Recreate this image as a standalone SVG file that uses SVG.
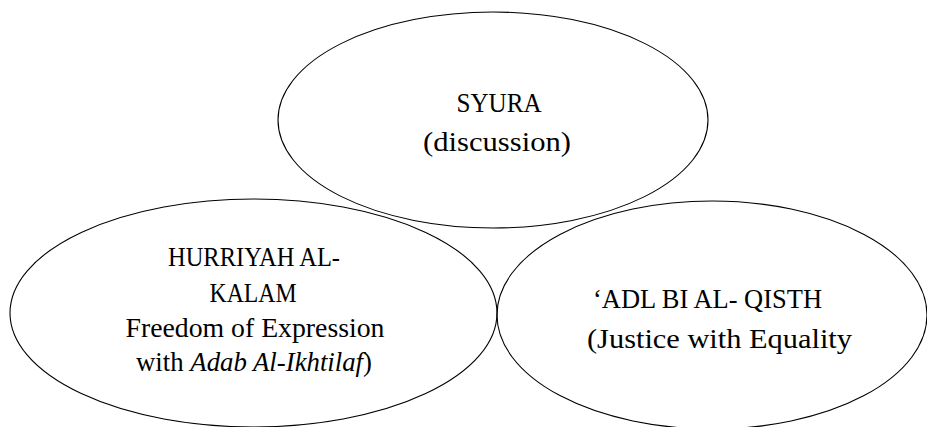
<svg xmlns="http://www.w3.org/2000/svg" width="927" height="427" viewBox="0 0 927 427">
  <style>
    .shape { fill: none; stroke: #000000; stroke-width: 1.1; }
    .lbl { font-family: "Liberation Serif", "DejaVu Serif", serif; font-size: 27px; fill: #000000; }
    .mid { text-anchor: middle; }
    .it { font-style: italic; }
  </style>
  <rect width="927" height="427" fill="#ffffff"/>
  <g id="node-syura">
    <ellipse class="shape" cx="493" cy="120" rx="215" ry="108"/>
    <text class="lbl mid" x="499" y="111.5" textLength="85" lengthAdjust="spacingAndGlyphs">SYURA</text>
    <text class="lbl mid" x="497" y="150.5" textLength="148" lengthAdjust="spacingAndGlyphs">(discussion)</text>
  </g>
  <g id="node-hurriyah">
    <ellipse class="shape" cx="253.5" cy="313" rx="243.5" ry="114"/>
    <text class="lbl mid" x="254" y="266" textLength="172" lengthAdjust="spacingAndGlyphs">HURRIYAH AL-</text>
    <text class="lbl mid" x="253" y="301.5" textLength="87" lengthAdjust="spacingAndGlyphs">KALAM</text>
    <text class="lbl mid" x="255" y="336.5" textLength="259" lengthAdjust="spacingAndGlyphs">Freedom of Expression</text>
    <text class="lbl mid" x="254" y="370.5" textLength="236" lengthAdjust="spacingAndGlyphs">with <tspan class="it">Adab Al-Ikhtilaf</tspan>)</text>
  </g>
  <g id="node-adl">
    <ellipse class="shape" cx="712" cy="315" rx="215" ry="114"/>
    <text class="lbl" x="593" y="308" textLength="229" lengthAdjust="spacingAndGlyphs">‘ADL BI AL- QISTH</text>
    <text class="lbl" x="587" y="348" textLength="265" lengthAdjust="spacingAndGlyphs">(Justice with Equality</text>
  </g>
  <g id="connectors"></g>
</svg>
